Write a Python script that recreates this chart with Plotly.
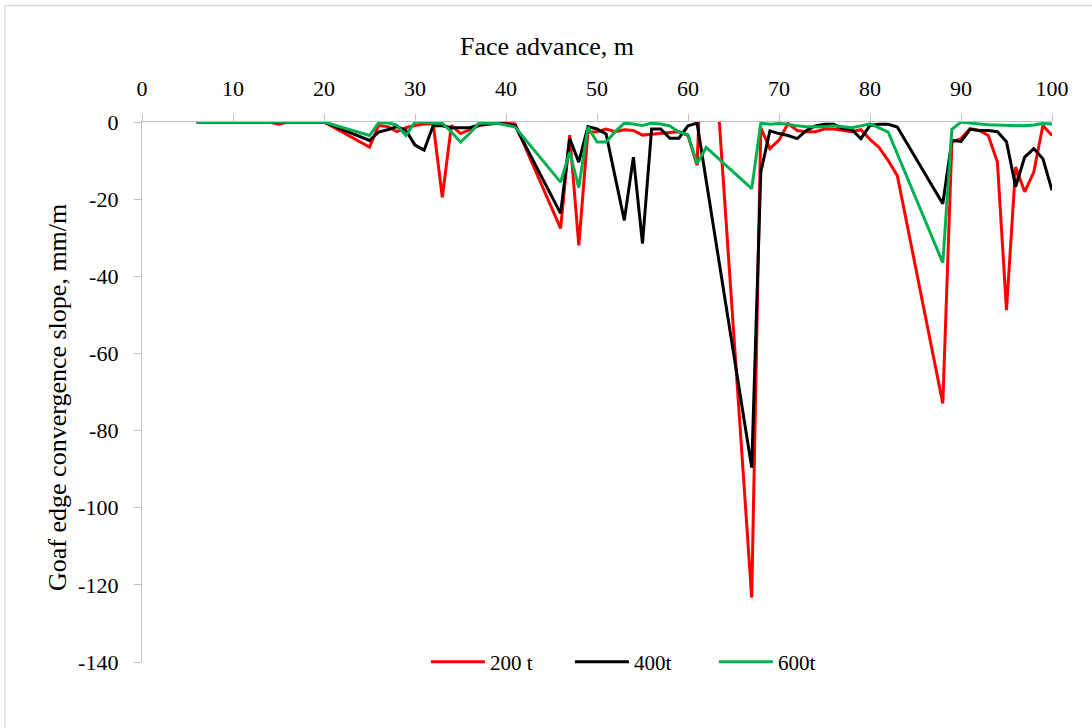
import plotly.graph_objects as go

# Face advance positions (m) and goaf edge convergence slope (mm/m) per load case
x_200t = [6, 8, 10, 12, 14, 15, 16, 18, 20, 25, 26, 27, 28, 29, 30, 31, 32, 33, 34, 35,
          36, 37, 38, 39, 40, 41, 46, 47, 48, 49, 50, 51, 52, 53, 54, 55, 56, 57, 58, 59,
          60, 61, 62, 67, 68, 69, 70, 71, 72, 73, 74, 75, 76, 77, 78, 79, 80, 81, 82, 83,
          88, 89, 90, 91, 92, 93, 94, 95, 96, 97, 98, 99, 100]
y_200t = [0, 0, 0, 0, 0, -0.6, 0, 0, 0, -6.5, -0.9, -1.2, -2.5, -1.5, -0.9, -0.5, -0.5, -19.5, -0.9, -3.0,
          -2.0, -1.0, -0.5, -0.3, -0.3, -0.5, -27.6, -3.4, -32.0, -2.6, -2.5, -1.8, -2.5, -2.0, -2.2, -3.4, -3.2, -3.0, -2.8, -2.5,
          -3.5, -11.2, 50.0, -123.3, -1.5, -6.9, -4.7, -0.4, -2.2, -2.5, -2.5, -1.8, -1.8, -2.2, -2.5, -2.0, -4.5, -6.6, -10.0, -13.9,
          -73.0, -5.2, -4.3, -1.7, -2.2, -3.5, -10.4, -48.8, -11.7, -18.1, -13.0, -0.9, -3.5]

x_400t = [6, 8, 10, 12, 14, 16, 18, 20, 25, 26, 27, 28, 29, 30, 31, 32, 33, 34, 35,
          36, 37, 38, 39, 40, 41, 46, 47, 48, 49, 50, 51, 53, 54, 55, 56, 57, 58, 59,
          60, 61, 67, 68, 69, 70, 71, 72, 73, 74, 75, 76, 77, 78, 79, 80, 81, 82, 83,
          88, 89, 90, 91, 92, 93, 94, 95, 96, 97, 98, 99, 100]
y_400t = [0, 0, 0, 0, 0, 0, 0, 0, -4.8, -2.6, -2.0, -1.2, -2.2, -6.0, -7.3, -0.9, -1.0, -1.5, -1.5,
          -1.5, -0.8, -0.5, -0.3, -0.5, -1.0, -23.7, -4.3, -10.4, -1.2, -1.8, -3.1, -25.5, -9.1, -31.5, -1.8, -1.8, -4.2, -4.2,
          -1.0, -0.3, -89.6, -13.0, -2.3, -3.0, -3.5, -4.3, -2.2, -1.0, -0.6, -0.6, -1.7, -2.0, -4.3, -0.9, -0.6, -0.6, -1.3,
          -21.2, -4.7, -5.1, -1.9, -2.2, -2.2, -2.5, -5.1, -16.8, -9.1, -6.9, -9.5, -17.7]

x_600t = [6, 8, 10, 12, 14, 16, 18, 20, 25, 26, 27, 28, 29, 30, 31, 32, 33, 34, 35,
          36, 37, 38, 39, 40, 41, 46, 47, 48, 49, 50, 51, 52, 53, 54, 55, 56, 57, 58, 59,
          60, 61, 62, 67, 68, 69, 70, 71, 72, 73, 74, 75, 76, 77, 78, 79, 80, 81, 82,
          88, 89, 90, 91, 92, 93, 94, 95, 96, 97, 98, 99, 100]
y_600t = [0, 0, 0, 0, 0, 0, 0, 0, -3.5, -0.2, -0.2, -0.8, -3.5, 0, 0, -0.3, -0.3, -2.6, -5.2,
          -3.0, -0.3, -0.3, -0.3, -0.8, -1.3, -15.6, -7.8, -17.0, -1.3, -5.2, -5.2, -2.5, -0.3, -0.5, -0.9, -0.3, -0.5, -1.0, -2.6,
          -3.3, -10.8, -6.6, -17.3, -0.3, -0.6, -0.4, -0.6, -1.0, -1.2, -1.2, -1.2, -1.0, -1.2, -1.5, -1.0, -0.5, -1.5, -2.6,
          -36.5, -1.9, 0, -0.3, -0.5, -0.7, -0.8, -0.9, -1.0, -1.0, -0.8, -0.4, -0.5]

x_ticks = list(range(0, 101, 10))
y_ticks = list(range(-140, 1, 20))
y_tick_text = [str(v) for v in y_ticks]  # plain hyphen-minus labels

series = [
    ("200 t", x_200t, y_200t, "#FF0000"),
    ("400t", x_400t, y_400t, "#000000"),
    ("600t", x_600t, y_600t, "#00B050"),
]

FONT = "Liberation Serif, Times New Roman, serif"
AXIS_GREY = "#BFBFBF"

fig = go.Figure()
for name, xs, ys, color in series:
    fig.add_trace(go.Scatter(
        x=xs, y=ys, mode="lines", name=name,
        line=dict(color=color, width=3),
    ))

fig.update_layout(
    width=1092, height=728,
    margin=dict(l=142, r=40, t=122, b=66),
    paper_bgcolor="white", plot_bgcolor="white",
    font=dict(family=FONT, size=22, color="black"),
    showlegend=True,
    legend=dict(
        orientation="h", x=0.312, xanchor="left", y=0.0, yanchor="middle",
        bgcolor="rgba(0,0,0,0)", font=dict(size=21),
        itemwidth=54, entrywidth=75, entrywidthmode="pixels",
    ),
    shapes=[dict(
        type="rect", xref="paper", yref="paper",
        x0=-0.1505, x1=1.06, y0=-0.15, y1=1.2157,
        line=dict(color="#D9D9D9", width=1.3), fillcolor="rgba(0,0,0,0)", layer="below",
    )],
    annotations=[
        dict(text="Face advance, m", xref="paper", yref="paper",
             x=0.445, y=1.139, xanchor="center", yanchor="middle",
             showarrow=False, font=dict(size=26)),
        dict(text="Goaf edge convergence slope, mm/m", xref="paper", yref="paper",
             x=-0.0923, y=0.489, xanchor="center", yanchor="middle", textangle=-90,
             showarrow=False, font=dict(size=26)),
    ],
)

fig.update_xaxes(
    side="top", range=[0, 100], tickvals=x_ticks,
    showline=True, linecolor=AXIS_GREY, linewidth=1.3,
    ticks="outside", ticklen=7, tickcolor=AXIS_GREY, tickwidth=1.3,
    ticklabelstandoff=9,
    showgrid=False, zeroline=False,
)
fig.update_yaxes(
    range=[-140, 0], tickvals=y_ticks, ticktext=y_tick_text,
    showline=True, linecolor=AXIS_GREY, linewidth=1.3,
    ticks="outside", ticklen=7, tickcolor=AXIS_GREY, tickwidth=1.3,
    ticklabelstandoff=11,
    showgrid=False, zeroline=False,
)

fig.write_html("out.html", config={"displayModeBar": False})
